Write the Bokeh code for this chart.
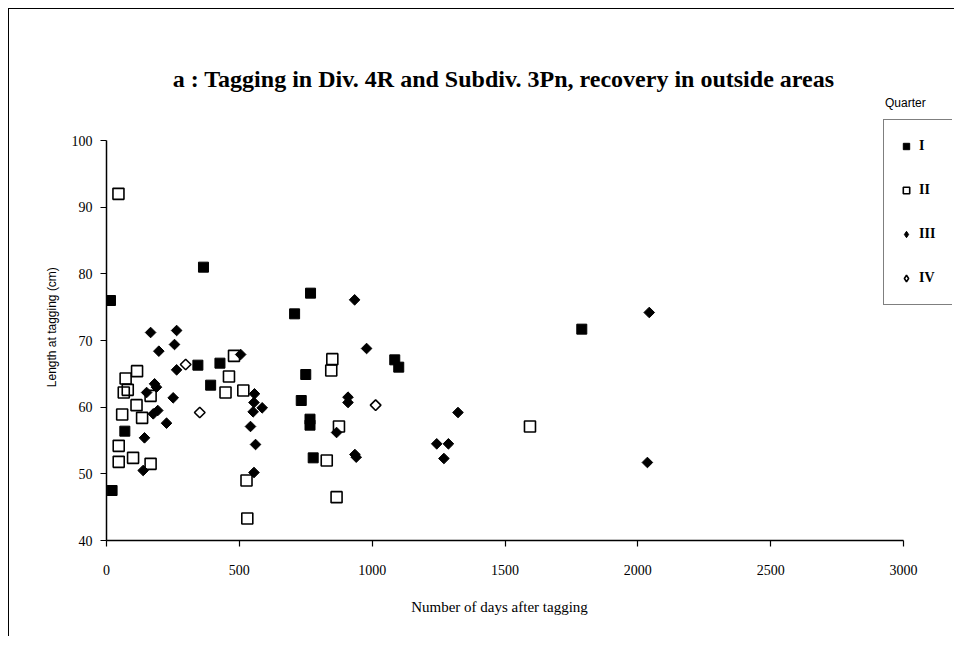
import math
from bokeh.plotting import figure
from bokeh.models import Range1d, Legend, LegendItem, Label, FixedTicker
from bokeh.embed import file_html
from bokeh.resources import INLINE

# ---- data (days after tagging, length at tagging in cm) ----
q1_days = [15, 21, 69, 344, 365, 392, 427, 708, 733, 750, 766, 766, 768, 778, 1085, 1100, 1789]
q1_len = [76.0, 47.5, 56.4, 66.3, 81.0, 63.3, 66.6, 74.0, 61.0, 64.9, 58.2, 57.3, 77.1, 52.4, 67.1, 66.0, 71.7]

q2_days = [45, 46, 46, 59, 65, 72, 80, 100, 113, 115, 134, 166, 166, 448, 461, 480, 515, 527, 530,
           829, 846, 850, 866, 875, 1594]
q2_len = [92.0, 54.2, 51.8, 58.9, 62.2, 64.3, 62.6, 52.4, 60.3, 65.4, 58.4, 51.5, 61.7, 62.2, 64.6, 67.7,
          62.5, 49.0, 43.3, 52.0, 65.5, 67.2, 46.5, 57.1, 57.1]

q3_days = [138, 143, 151, 166, 176, 181, 188, 193, 197, 226, 251, 256, 264, 264, 505, 542, 552, 555, 555,
           557, 561, 586, 866, 909, 909, 934, 935, 940, 979, 1243, 1270, 1287, 1323, 2036, 2043]
q3_len = [50.5, 55.4, 62.2, 71.2, 59.0, 63.5, 63.0, 59.5, 68.4, 57.6, 61.4, 69.4, 71.5, 65.6, 67.9, 57.1,
          59.3, 60.7, 50.2, 62.0, 54.4, 59.9, 56.2, 61.5, 60.7, 76.1, 52.9, 52.5, 68.8, 54.5, 52.3, 54.5,
          59.2, 51.7, 74.2]

q4_days = [298, 351, 1013]
q4_len = [66.4, 59.2, 60.3]

quarters = ["I", "II", "III", "IV"]
x_ticks = [0, 500, 1000, 1500, 2000, 2500, 3000]
y_ticks = [40, 50, 60, 70, 80, 90, 100]

title_text = "a : Tagging in Div. 4R  and Subdiv. 3Pn, recovery in outside areas"
x_label = "Number of days after tagging"
y_label = "Length at tagging (cm)"
legend_title = "Quarter"

NBSP = "\u00a0"

# axes span 0-3000 / 40-100; the frame is extended so title and legend live inside it
p = figure(frame_width=846, frame_height=480, output_backend="svg", toolbar_location=None,
           x_range=Range1d(0, 3184.4), y_range=Range1d(40, 112),
           min_border_left=97, min_border_right=2, min_border_top=51, min_border_bottom=96)
p.styles = {"margin-left": "8px", "margin-top": "8px",
            "border-left": "1px solid black", "border-top": "1px solid black"}
p.outline_line_color = None
p.xgrid.visible = False
p.ygrid.visible = False
p.background_fill_color = "white"
p.border_fill_color = "white"
# an off-screen range used only by the legend swatch renderers
p.extra_x_ranges = {"swatch": Range1d(-2, -1)}

serif = "Liberation Serif"
sans = "Liberation Sans"

for ax in (p.xaxis[0], p.yaxis[0]):
    ax.axis_line_color = "black"
    ax.axis_line_width = 1.5
    ax.major_tick_line_color = "black"
    ax.major_tick_line_width = 1.2
    ax.major_tick_out = 6
    ax.major_tick_in = 0
    ax.minor_tick_line_color = None
    ax.major_label_text_font = serif
    ax.major_label_text_font_size = "14px"
    ax.major_label_text_color = "black"
    ax.axis_label_text_color = "black"
    ax.axis_label_text_font_style = "normal"

p.xaxis.bounds = (0, 3000)
p.yaxis.bounds = (40, 100)
p.xaxis.ticker = FixedTicker(ticks=x_ticks)
p.yaxis.ticker = FixedTicker(ticks=y_ticks)
p.xaxis.major_label_standoff = 18
p.yaxis.major_label_standoff = 8
# trailing no-break spaces re-centre the labels on the 0-3000 / 40-100 axis spans
p.xaxis.axis_label = x_label + NBSP * 16
p.xaxis.axis_label_text_font = serif
p.xaxis.axis_label_text_font_size = "15px"
p.xaxis.axis_label_standoff = 21
p.yaxis.axis_label = y_label + NBSP * 16
p.yaxis.axis_label_text_font = sans
p.yaxis.axis_label_text_font_size = "12px"
p.yaxis.axis_label_standoff = 10

r1 = p.scatter(q1_days, q1_len, marker="square", size=10, fill_color="black", line_color="black")
r2 = p.scatter(q2_days, q2_len, marker="square", size=11, fill_color="white", fill_alpha=0.0,
               line_color="black", line_width=1.6)
r3 = p.scatter(q3_days, q3_len, marker="square", size=7.5, angle=math.pi / 4,
               fill_color="black", line_color="black")
r4 = p.scatter(q4_days, q4_len, marker="square", size=7.5, angle=math.pi / 4,
               fill_color="white", fill_alpha=0.0, line_color="black", line_width=1.6)

# legend swatches for the diamond series (legend glyphs ignore rotation); mapped off-screen
l3 = p.scatter(q3_days, q3_len, marker="diamond", size=13, fill_color="black", line_color="black",
               x_range_name="swatch")
l4 = p.scatter(q4_days, q4_len, marker="diamond", size=13, fill_color="white", line_color="black",
               line_width=1.6, x_range_name="swatch")

legend = Legend(items=[LegendItem(label=q, renderers=[r]) for q, r in zip(quarters, [r1, r2, l3, l4])],
                location=(777, 235), padding=14, margin=0, spacing=20,
                glyph_width=16, glyph_height=24, label_height=24, label_standoff=5,
                label_text_font=serif, label_text_font_size="14px", label_text_font_style="bold",
                label_text_color="black",
                border_line_color="black", border_line_width=1.5,
                background_fill_color="white", background_fill_alpha=1.0)
p.add_layout(legend, "center")

p.add_layout(Label(x=1506, y=109.3, text=title_text, text_font=serif, text_font_size="24px",
                   text_font_style="bold", text_align="center", text_baseline="middle",
                   text_color="black"))
p.add_layout(Label(x=3007, y=105.7, text=legend_title, text_font=sans, text_font_size="12px",
                   text_align="center", text_baseline="middle", text_color="black"))

open("out.html", "w").write(file_html(p, INLINE))
